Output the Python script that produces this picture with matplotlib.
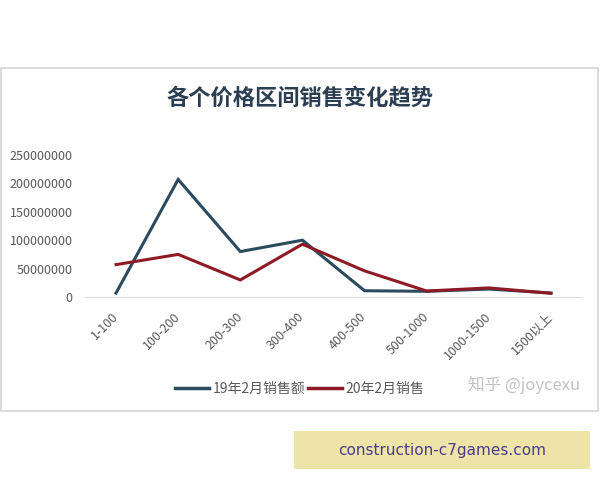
import matplotlib
matplotlib.use('Agg')
import matplotlib.pyplot as plt
from matplotlib.patches import Rectangle
from matplotlib.lines import Line2D

plt.rcParams['font.family'] = ['Noto Sans CJK SC', 'DejaVu Sans']

# price ranges and monthly sales
categories = ['1-100', '100-200', '200-300', '300-400', '400-500',
              '500-1000', '1000-1500', '1500以上']
sales_19 = [7000000, 207000000, 80000000, 100000000, 11000000,
            10000000, 14000000, 7000000]
sales_20 = [57000000, 75000000, 30000000, 93000000, 46000000,
            10500000, 16000000, 6500000]
y_ticks = [0, 50000000, 100000000, 150000000, 200000000, 250000000]

W, H = 600, 480
BLUE = '#2b4a5e'
RED = '#8e1a26'
GRAY = '#595959'


def px_box(x0, y0, x1, y1):
    """pixel box (top-left origin) -> figure fraction [l, b, w, h]"""
    return [x0 / W, 1 - y1 / H, (x1 - x0) / W, (y1 - y0) / H]


fig = plt.figure(figsize=(6, 4.8), dpi=100)

# chart frame (kept behind the axes)
l, b, w, h = px_box(1, 68, 598, 411)
fig.patches.append(Rectangle((l, b), w, h, transform=fig.transFigure,
                             facecolor='white', edgecolor='#d4d4d4', lw=1.2,
                             zorder=-1))

ax = fig.add_axes(px_box(85, 155, 582, 297))
x = list(range(len(categories)))
ax.plot(x, sales_19, color=BLUE, lw=2.2, solid_joinstyle='miter')
ax.plot(x, sales_20, color=RED, lw=2.2, solid_joinstyle='miter')

ax.set_xlim(-0.5, len(categories) - 0.5)
ax.set_ylim(0, 250000000)
ax.set_yticks(y_ticks)
ax.set_yticklabels([str(v) for v in y_ticks])
ax.set_xticks(x)
ax.set_xticklabels(categories, rotation=45, ha='right', va='center',
                   rotation_mode='anchor')
ax.tick_params(axis='both', length=0, colors=GRAY, labelsize=9)
ax.tick_params(axis='x', pad=13)
ax.tick_params(axis='y', pad=9)
for side in ['top', 'right', 'left']:
    ax.spines[side].set_visible(False)
ax.spines['bottom'].set_color('#d9d9d9')
ax.set_facecolor('none')

fig.text(0.5, 1 - 98 / H, '各个价格区间销售变化趋势', ha='center', va='center',
         fontsize=16, fontweight='bold', color='#2c3f52')

handles = [Line2D([], [], color=BLUE, lw=2.5),
           Line2D([], [], color=RED, lw=2.5)]
leg = fig.legend(handles, ['19年2月销售额', '20年2月销售'], ncol=2,
                 loc='center', bbox_to_anchor=(300 / W, 1 - 389 / H),
                 frameon=False, fontsize=10, handlelength=2.4,
                 handletextpad=0.3, columnspacing=0.2)
for t in leg.get_texts():
    t.set_color(GRAY)

fig.text(524 / W, 1 - 385 / H, '知乎 @joycexu', ha='center', va='center',
         fontsize=12, color='#c2c2c2')

# banner below the chart
l, b, w, h = px_box(294, 431, 590, 469)
fig.patches.append(Rectangle((l, b), w, h, transform=fig.transFigure,
                             facecolor='#efe4a8', edgecolor='none'))
fig.text(442 / W, 1 - 450 / H, 'construction-c7games.com', ha='center',
         va='center', fontsize=11, color='#4b3b8c', family='DejaVu Sans')

fig.savefig('out.png', dpi=100)
